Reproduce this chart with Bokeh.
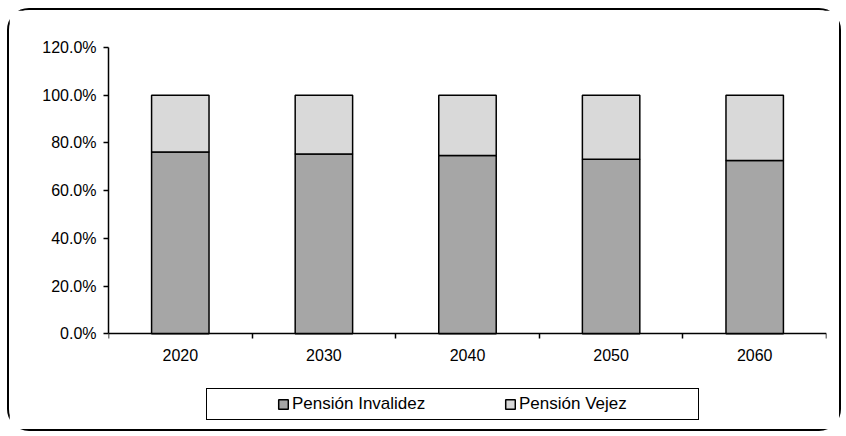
from bokeh.plotting import figure
from bokeh.models import (ColumnDataSource, FactorRange, Range1d, LinearAxis,
                          FixedTicker, NumeralTickFormatter, Legend, LegendItem)
from bokeh.embed import file_html
from bokeh.resources import INLINE

# ---- data ----
years = ["2020", "2030", "2040", "2050", "2060"]
invalidez = [0.762, 0.754, 0.747, 0.732, 0.726]
vejez = [0.238, 0.246, 0.253, 0.268, 0.274]
series = ["Pensión Invalidez", "Pensión Vejez"]
y_ticks = [0.0, 0.2, 0.4, 0.6, 0.8, 1.0, 1.2]

FONT = "Liberation Sans"
src = ColumnDataSource(dict(year=years, inv=invalidez, vej=vejez))

# the frame reaches down below zero so that the legend sits inside it
p = figure(width=834, height=423,
           x_range=FactorRange(factors=years, range_padding=0),
           y_range=Range1d(-0.384, 1.2),
           output_backend="svg", toolbar_location=None,
           x_axis_location=None, y_axis_location="left",
           min_border_left=99, min_border_right=17,
           min_border_top=37, min_border_bottom=8)
p.styles = {"border": "2px solid black", "border-radius": "22px",
            "margin-left": "7px", "margin-top": "8px"}
p.outline_line_color = None
p.grid.visible = False
p.background_fill_color = "white"
p.border_fill_color = "white"

rs = p.vbar_stack(["inv", "vej"], x="year", width=0.4, source=src,
                  fill_color=["#A6A6A6", "#D9D9D9"], line_color="black", line_width=1.5)

# y axis
ya = p.yaxis[0]
ya.ticker = FixedTicker(ticks=y_ticks, minor_ticks=[])
ya.bounds = (0, 1.2)
ya.formatter = NumeralTickFormatter(format="0.0%")
ya.major_tick_out = 5
ya.major_tick_in = 0
ya.minor_tick_out = 0
ya.minor_tick_in = 0
ya.axis_line_width = 1.5
ya.major_tick_line_width = 1.5
ya.major_label_standoff = 7
ya.major_label_text_font = FONT
ya.major_label_text_font_size = "16px"
ya.major_label_text_color = "black"

# x axis at y = 0: labels at category centres, short ticks at category boundaries
n = len(years)
centres = [i + 0.5 for i in range(n)]
edges = list(range(n + 1))
xa = LinearAxis(ticker=FixedTicker(ticks=centres, minor_ticks=edges),
                major_label_overrides={c: y for c, y in zip(centres, years)},
                fixed_location=0,
                major_tick_out=0, major_tick_in=0,
                minor_tick_out=5, minor_tick_in=0,
                major_label_standoff=10,
                axis_line_width=1.5, minor_tick_line_width=1.5,
                major_label_text_font=FONT, major_label_text_font_size="16px",
                major_label_text_color="black")
p.add_layout(xa, "below")

legend = Legend(items=[LegendItem(label=series[0], renderers=[rs[0]]),
                       LegendItem(label=series[1], renderers=[rs[1]])],
                location=(98, 5), orientation="horizontal",
                padding=5, spacing=38, label_width=174, label_height=19,
                glyph_width=12, glyph_height=12, label_standoff=3,
                border_line_color="black", border_line_width=1.5,
                border_line_alpha=1.0,
                background_fill_color="white", background_fill_alpha=1,
                label_text_font=FONT, label_text_font_size="17px",
                label_text_color="black",
                title=" ", title_location="left", title_standoff=54,
                title_text_font_size="10px", margin=0)
p.add_layout(legend, "center")

open("out.html", "w").write(file_html(p, INLINE))
